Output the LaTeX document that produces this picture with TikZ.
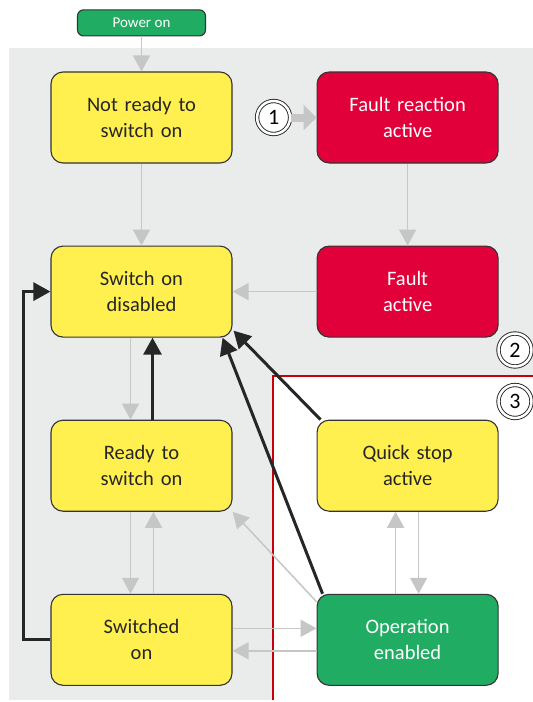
\documentclass[tikz,border=0pt]{standalone}
\usepackage{fontspec}
\setmainfont{Carlito}
\usepackage{xcolor}
\usetikzlibrary{arrows.meta, positioning}

\definecolor{stateyellow}{HTML}{FFF04F}
\definecolor{statered}{HTML}{E2003A}
\definecolor{stategreen}{HTML}{20AC62}
\definecolor{boxline}{HTML}{333333}
\definecolor{bggray}{HTML}{EAEBEB}
\definecolor{flowgray}{HTML}{C6C6C6}
\definecolor{flowblack}{HTML}{262626}
\definecolor{framered}{HTML}{C8000A}

\begin{document}
\begin{tikzpicture}[
    x=1pt, y=1pt,
    node distance=82pt and 84pt,
    state/.style={rectangle, draw=boxline, line width=1.1pt, fill=stateyellow, text=flowblack, text width=170pt, align=center, rounded corners=12pt, minimum width=181pt, minimum height=91pt, font=\fontsize{20.5}{26}\selectfont},
    faultbox/.style={state, fill=statered, text=white},
    runbox/.style={state, fill=stategreen, text=white},
    powerbox/.style={rectangle, draw=boxline, line width=1.1pt, fill=stategreen, text=white, rounded corners=6pt, minimum width=128pt, minimum height=26pt, font=\fontsize{15}{18}\selectfont},
    marker/.style={circle, draw=flowblack, line width=0.9pt, double=white, double distance=2.5pt, fill=white, minimum size=33pt, inner sep=0pt, font=\fontsize{22}{22}\selectfont},
    grayarrow/.style={draw=flowgray, line width=1.5pt, -{Triangle[width=17pt, length=16pt]}},
    blackarrow/.style={draw=flowblack, line width=3pt, -{Triangle[width=18pt, length=17pt]}}
]
\useasboundingbox (0,0) rectangle (533,-702);

% background areas
\fill[bggray] (9,-48) rectangle (533,-700);
\fill[white] (273,-376) rectangle (533,-700);
\draw[framered, line width=2.5pt] (273,-700) -- (273,-376) -- (533,-376);

% states
\node (notready) [state] at (141.5,-117.5) {Not ready to\\switch on};
\node (power) [powerbox, above=35pt of notready] {Power on};
\node (reaction) [faultbox, right=of notready] {Fault reaction\\active};
\node (fault) [faultbox, below=of reaction] {Fault\\active};
\node (disabled) [state, below=of notready] {Switch on\\disabled};
\node (ready) [state, below=of disabled] {Ready to\\switch on};
\node (switched) [state, below=of ready] {Switched\\on};
\node (quickstop) [state, below=of fault] {Quick stop\\active};
\node (enabled) [runbox, below=of quickstop] {Operation\\enabled};

% markers
\node (one) [marker, left=26pt of reaction] {1};
\node (two) [marker] at (515,-350) {2};
\node (three) [marker] at (515,-401.5) {3};

% gray transitions
\draw [grayarrow] (power) -- (notready);
\draw [grayarrow] (notready) -- (disabled);
\draw [draw=flowgray, line width=8pt, -{Triangle[width=25pt, length=13pt]}] (one) -- (reaction);
\draw [grayarrow] (reaction) -- (fault);
\draw [grayarrow] (fault) -- (disabled);
\draw [grayarrow] ([xshift=-11pt]disabled.south) -- ([xshift=-11pt]ready.north);
\draw [grayarrow] ([xshift=-11pt]ready.south) -- ([xshift=-11pt]switched.north);
\draw [grayarrow] ([xshift=12pt]switched.north) -- ([xshift=12pt]ready.south);
\draw [grayarrow] ([yshift=11.5pt]switched.east) -- ([yshift=11.5pt]enabled.west);
\draw [grayarrow] ([yshift=-11pt]enabled.west) -- ([yshift=-11pt]switched.east);
\draw [grayarrow] ([xshift=-12pt]enabled.north) -- ([xshift=-12pt]quickstop.south);
\draw [grayarrow] ([xshift=11pt]quickstop.south) -- ([xshift=11pt]enabled.north);
\draw [grayarrow] ([yshift=-8pt]enabled.north west) -- (ready.south east);

% black transitions
\draw [blackarrow] ([xshift=11pt]ready.north) -- ([xshift=11pt]disabled.south);
\draw [blackarrow] (switched.west) -- ++(-27,0) |- (disabled.west);
\draw [blackarrow] ([xshift=4pt]quickstop.north west) -- ([xshift=1pt, yshift=7pt]disabled.south east);
\draw [blackarrow] ([xshift=6pt]enabled.north west) -- ([xshift=-10pt]disabled.south east);

\end{tikzpicture}
\end{document}
